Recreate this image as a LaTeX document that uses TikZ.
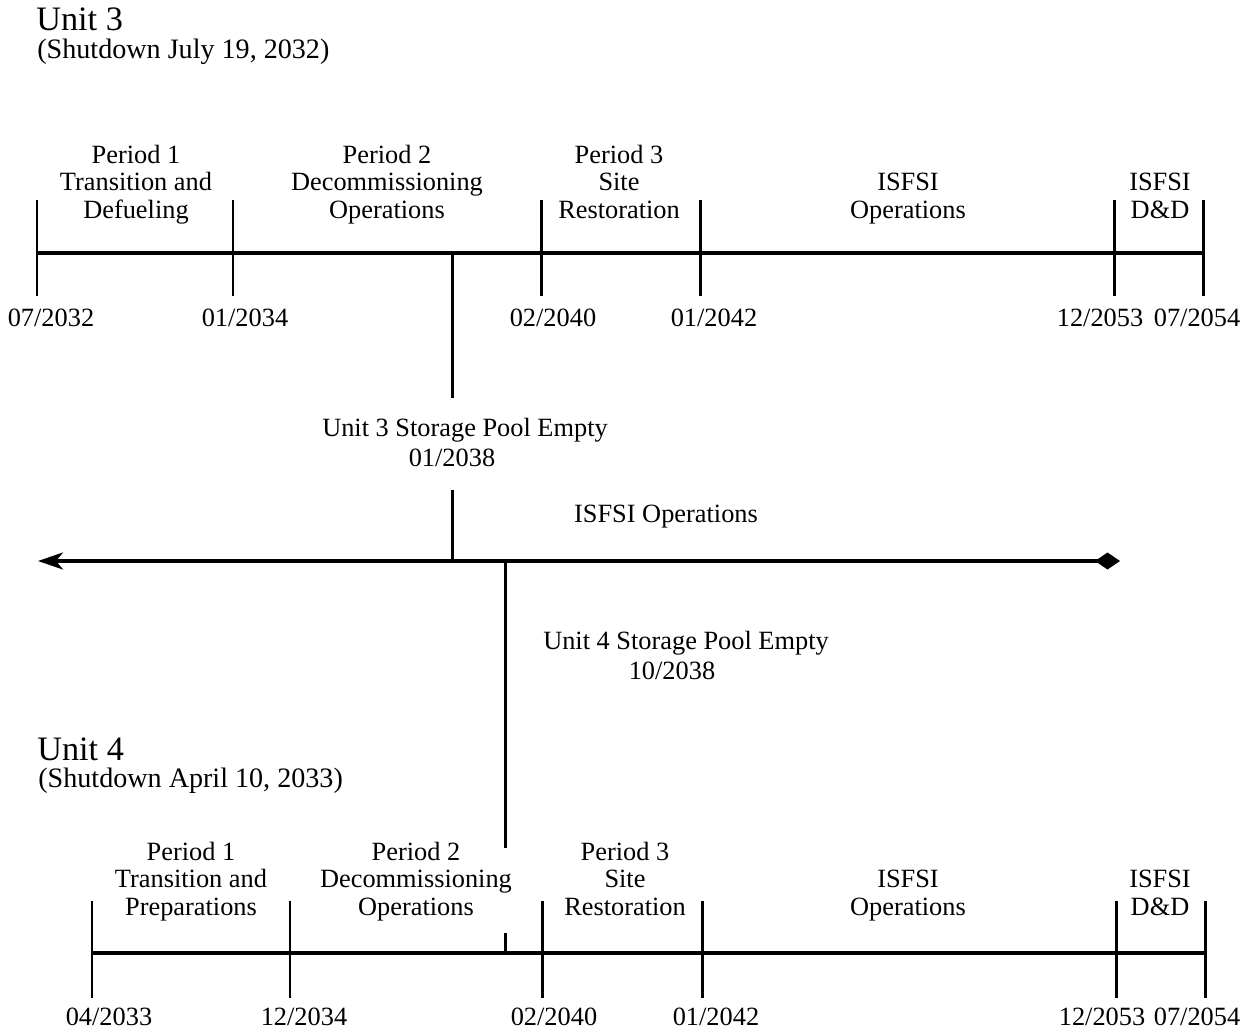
\documentclass[tikz,border=0pt]{standalone}
\usepackage{fontspec}
\setmainfont{Liberation Serif}
\usetikzlibrary{arrows.meta}

\begin{document}
\begin{tikzpicture}[x=0.02cm,y=-0.02cm,
    every node/.style={font=\fontsize{15}{15.9}\selectfont, inner sep=0pt},
    lbl/.style={align=center, text depth=0.25em},
    title/.style={anchor=west, font=\fontsize{19.5}{20}\selectfont},
    sub/.style={anchor=west, font=\fontsize{16}{18}\selectfont},
    axis/.style={line width=1.9pt},
    tick/.style={line width=1.7pt}]
  \useasboundingbox (0,0) rectangle (1257,1034);

  % Unit 3
  \node[title] (u3) at (36,19) {Unit 3};
  \node[sub] (u3sd) at (37,52) {(Shutdown July 19, 2032)};
  \foreach \n/\x in {a/37,b/233,c/541,d/700,e/1114,f/1203} {
    \coordinate (u3\n) at (\x,253);
    \draw[tick] (\x,200) -- (\x,296);
  }
  \draw[axis] (u3a) -- (u3f);
  \node[lbl] (u3p1) at (136,184) {Period 1\\Transition and\\Defueling};
  \node[lbl] (u3p2) at (387,184) {Period 2\\Decommissioning\\Operations};
  \node[lbl] (u3p3) at (619,184) {Period 3\\Site\\Restoration};
  \node[lbl] (u3is) at (908,198) {ISFSI\\Operations};
  \node[lbl] (u3dd) at (1160,198) {ISFSI\\D\&D};
  \node (u3da) at (51,318) {07/2032};
  \node (u3db) at (245,318) {01/2034};
  \node (u3dc) at (553,318) {02/2040};
  \node (u3dd) at (714,318) {01/2042};
  \node (u3de) at (1100,318) {12/2053};
  \node (u3df) at (1197,318) {07/2054};

  % pool empty marks
  \coordinate (u3pool) at (452,253);
  \coordinate (u3poolb) at (452,398);
  \node (u3empty) at (465,430) {Unit 3 Storage Pool Empty};
  \node (u3emptyd) at (452,458) {01/2038};
  \coordinate (isfsia) at (452,490);
  \coordinate (isfsib) at (452,561);
  \coordinate (isfsil) at (38,561);
  \coordinate (isfsir) at (1120,561);
  \coordinate (u4pool) at (505,561);
  \coordinate (u4poolb) at (505,848);
  \draw[tick] (u3pool) -- (u3poolb);
  \draw[tick] (isfsia) -- (isfsib);
  \draw[axis, {Stealth[length=0.5cm,width=0.34cm,inset=0.14cm]}-{Diamond[length=0.5cm,width=0.34cm]}]
    (isfsil) -- (isfsir);
  \node (isfsi) at (666,517) {ISFSI Operations};
  \draw[tick] (u4pool) -- (u4poolb);
  \node (u4empty) at (686,643) {Unit 4 Storage Pool Empty};
  \node (u4emptyd) at (672,671) {10/2038};

  % Unit 4
  \node[title] (u4) at (37,749) {Unit 4};
  \node[sub] (u4sd) at (38,781) {(Shutdown April 10, 2033)};
  \foreach \n/\x in {a/92,b/290,c/542,d/702,e/1116,f/1205} {
    \coordinate (u4\n) at (\x,953);
    \draw[tick] (\x,901) -- (\x,998);
  }
  \draw[axis] (u4a) -- (u4f);
  \coordinate (u4mark) at (505,953);
  \coordinate (u4markt) at (505,933);
  \draw[tick] (u4mark) -- (u4markt);
  \node[lbl] (u4p1) at (191,881) {Period 1\\Transition and\\Preparations};
  \node[lbl] (u4p2) at (416,881) {Period 2\\Decommissioning\\Operations};
  \node[lbl] (u4p3) at (625,881) {Period 3\\Site\\Restoration};
  \node[lbl] (u4is) at (908,895) {ISFSI\\Operations};
  \node[lbl] (u4dd) at (1160,895) {ISFSI\\D\&D};
  \node (u4da) at (109,1017) {04/2033};
  \node (u4db) at (304,1017) {12/2034};
  \node (u4dc) at (554,1017) {02/2040};
  \node (u4dd) at (716,1017) {01/2042};
  \node (u4de) at (1102,1017) {12/2053};
  \node (u4df) at (1197,1017) {07/2054};
\end{tikzpicture}
\end{document}
